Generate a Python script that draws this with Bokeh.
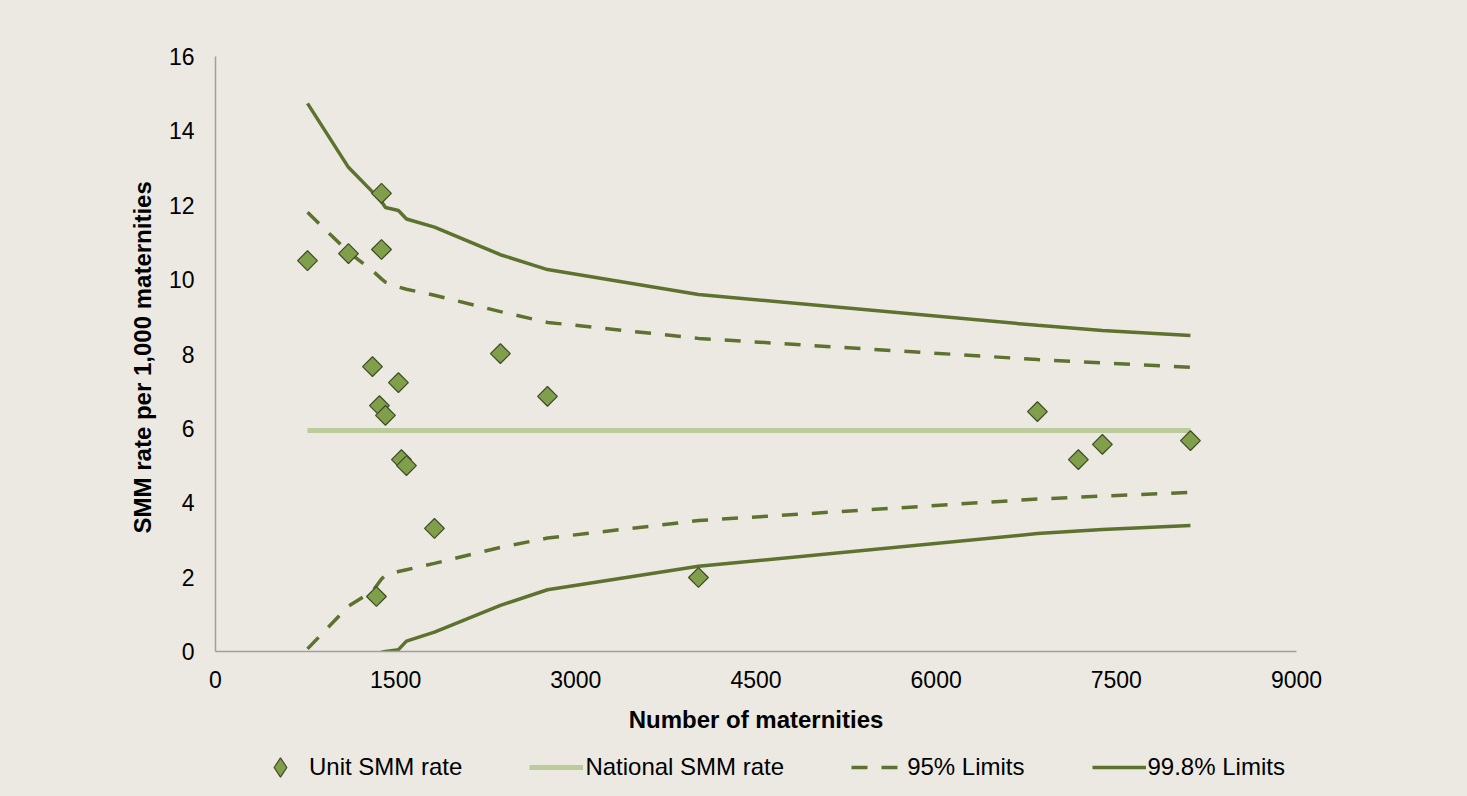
import numpy as np
from bokeh.plotting import figure
from bokeh.layouts import column
from bokeh.models import Range1d, FixedTicker, Legend, LegendItem, ColumnDataSource
from bokeh.embed import file_html
from bokeh.resources import INLINE

# Unit SMM rates (number of maternities, rate per 1,000)
unit_x = [766, 1107, 1382, 1382, 1307, 1365, 1415, 1523, 1548, 1590, 1823, 1340,
          2372, 2764, 4021, 6843, 7184, 7384, 8117]
unit_y = [10.51, 10.70, 12.32, 10.81, 7.66, 6.61, 6.35, 7.23, 5.16, 5.00, 3.31, 1.48,
          8.01, 6.86, 1.99, 6.45, 5.16, 5.57, 5.67]

# National rate
national_x = [766, 8117]
national_y = [5.94, 5.94]

# Control limits evaluated at unit sizes
limit_x = [766, 1107, 1307, 1382, 1415, 1523, 1590, 1823, 2372, 2764, 4021, 6843, 7384, 8117]
upper_998 = [14.74, 13.02, 12.36, 12.10, 11.94, 11.86, 11.63, 11.41, 10.67, 10.27, 9.60, 8.77, 8.63, 8.50]
upper_95 = [11.81, 10.74, 10.24, 10.02, 9.93, 9.80, 9.74, 9.58, 9.14, 8.85, 8.42, 7.85, 7.76, 7.64]
lower_95 = [0.07, 1.22, 1.62, 1.95, 2.05, 2.15, 2.20, 2.37, 2.80, 3.05, 3.52, 4.10, 4.18, 4.28]
lower_998 = [float("nan"), float("nan"), float("nan"), -0.02, 0.00, 0.05, 0.28, 0.52, 1.24, 1.66, 2.29, 3.17, 3.28, 3.39]

x_ticks = [0, 1500, 3000, 4500, 6000, 7500, 9000]
y_ticks = [0, 2, 4, 6, 8, 10, 12, 14, 16]
legend_labels = ["Unit SMM rate", "National SMM rate", "95% Limits", "99.8% Limits"]

BG = "#ECE9E2"
DARK = "#5E7230"
LIGHT = "#BCCB9C"
MFILL = "#7F9F4A"
MLINE = "#3F4A28"
FONT = "Liberation Sans"

# ---------------- main chart ----------------
p = figure(frame_width=1081, frame_height=595, output_backend="svg", toolbar_location=None,
           x_range=Range1d(0, 9000), y_range=Range1d(0, 16),
           background_fill_color=None, border_fill_color=BG,
           min_border_left=215, min_border_top=56, min_border_right=171, min_border_bottom=86)
p.outline_line_color = None
p.xgrid.visible = False
p.ygrid.visible = False

src_l = ColumnDataSource(dict(x=limit_x, u998=upper_998, u95=upper_95, l95=lower_95, l998=lower_998))

p.line(national_x, national_y, line_color=LIGHT, line_width=5)
p.line("x", "u95", source=src_l, line_color=DARK, line_width=3.5, line_dash="16 14")
p.line("x", "l95", source=src_l, line_color=DARK, line_width=3.5, line_dash="16 14")
p.line("x", "u998", source=src_l, line_color=DARK, line_width=3.5)
p.line("x", "l998", source=src_l, line_color=DARK, line_width=3.5)
p.scatter(unit_x, unit_y, marker="square", angle=np.pi / 4, size=14,
          fill_color=MFILL, line_color=MLINE, line_width=1.2)

for ax in (p.xaxis[0], p.yaxis[0]):
    ax.axis_line_color = "#A0A0A0"
    ax.axis_line_width = 1.5
    ax.major_tick_line_color = None
    ax.minor_tick_line_color = None
    ax.major_label_text_font = FONT
    ax.major_label_text_font_size = "23px"
    ax.major_label_text_color = "#000000"
    ax.axis_label_text_font = FONT
    ax.axis_label_text_font_size = "24px"
    ax.axis_label_text_font_style = "bold"
    ax.axis_label_text_color = "#000000"

p.xaxis.ticker = FixedTicker(ticks=x_ticks)
p.yaxis.ticker = FixedTicker(ticks=y_ticks)
p.xaxis.major_label_standoff = 13
p.yaxis.major_label_standoff = 15
p.xaxis.axis_label = "Number of maternities"
p.yaxis.axis_label = "SMM rate per 1,000  maternities"
p.xaxis.axis_label_standoff = 15
p.yaxis.axis_label_standoff = 10

# ---------------- legend strip (frame aligned with the main chart) ----------------
lg = figure(frame_width=1081, frame_height=59, output_backend="svg", toolbar_location=None,
            x_range=Range1d(0, 1), y_range=Range1d(0, 1),
            x_axis_type=None, y_axis_type=None,
            background_fill_color=None, border_fill_color=BG,
            min_border_left=215, min_border_right=171, min_border_top=0, min_border_bottom=0)
lg.outline_line_color = None
lg.xgrid.visible = False
lg.ygrid.visible = False

# legend key renderers: same data, lying outside this strip's ranges (only their keys show)
e_unit = lg.scatter(unit_x, unit_y, marker="diamond", size=20, fill_color=MFILL,
                    line_color=MLINE, line_width=1.2)
e_nat = lg.line(national_x, national_y, line_color=LIGHT, line_width=5)
e_95 = lg.line(limit_x, upper_95, line_color=DARK, line_width=3.5, line_dash="16 14")
e_998 = lg.line(limit_x, upper_998, line_color=DARK, line_width=3.5)

legend = Legend(items=[LegendItem(label=t, renderers=[r]) for t, r in
                       zip(legend_labels, [e_unit, e_nat, e_95, e_998])],
                orientation="horizontal", location=(38, 5))
legend.background_fill_alpha = 0
legend.border_line_alpha = 0
legend.label_text_font = FONT
legend.label_text_font_size = "24px"
legend.label_text_color = "#000000"
legend.glyph_width = 54
legend.glyph_height = 48
legend.label_standoff = 2
legend.spacing = 67
legend.margin = 0
legend.padding = 0
lg.add_layout(legend, "center")

layout = column(p, lg, spacing=0, styles={"background-color": BG})
open("out.html", "w").write(file_html(layout, INLINE))
